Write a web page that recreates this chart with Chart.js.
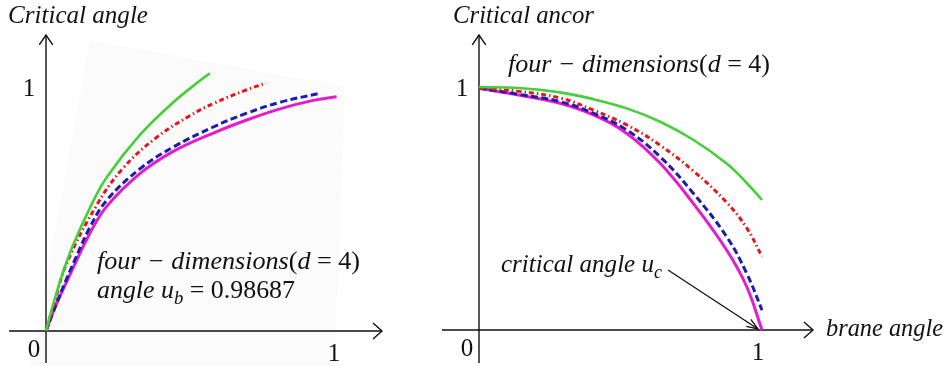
<!DOCTYPE html>
<html>
<head>
<meta charset="utf-8">
<script src="https://cdn.jsdelivr.net/npm/chart.js@4"></script>
<style>
  body { margin: 0; background: #fff; }
  #wrap { position: relative; width: 946px; height: 366px; overflow: hidden; }
  #leftBox { position: absolute; left: 0; top: 0; width: 440px; height: 366px; }
  #rightBox { position: absolute; left: 440px; top: 0; width: 506px; height: 366px; }
  .probe { position: absolute; left: -999px; font-family: "Liberation Serif"; }
</style>
</head>
<body>
<div id="wrap">
  <div id="leftBox"><canvas id="leftChart" width="440" height="366"></canvas></div>
  <div id="rightBox"><canvas id="rightChart" width="506" height="366"></canvas></div>
</div>
<span class="probe">a <i>a</i></span>
<script>
// left panel: Critical angle
const leftGreenX = [0, 0.02, 0.055, 0.094, 0.153, 0.211, 0.326, 0.442, 0.535, 0.569];
const leftGreenY = [0, 0.09, 0.228, 0.355, 0.51, 0.635, 0.81, 0.945, 1.035, 1.065];
const leftRedX = [0, 0.025, 0.072, 0.176, 0.267, 0.384, 0.5, 0.581, 0.697, 0.764];
const leftRedY = [0, 0.1, 0.28, 0.52, 0.672, 0.8, 0.89, 0.94, 0.997, 1.024];
const leftBlueX = [0, 0.035, 0.066, 0.095, 0.153, 0.211, 0.326, 0.442, 0.581, 0.697, 0.8125, 0.949];
const leftBlueY = [0, 0.11, 0.2, 0.28, 0.43, 0.54, 0.67, 0.76, 0.843, 0.9, 0.945, 0.982];
const leftMagentaX = [0, 0.031, 0.094, 0.153, 0.211, 0.326, 0.442, 0.581, 0.697, 0.8125, 0.928, 1.009];
const leftMagentaY = [0, 0.096, 0.26, 0.405, 0.515, 0.65, 0.742, 0.818, 0.872, 0.918, 0.953, 0.968];

// right panel: Critical ancor vs brane angle
const rightX = [0, 0.14, 0.286, 0.404, 0.522, 0.640, 0.757, 0.875, 0.946, 1.0];
const rightGreenY = [1.0, 0.996, 0.978, 0.95, 0.912, 0.857, 0.783, 0.685, 0.605, 0.535];
const rightRedY = [0.995, 0.982, 0.955, 0.905, 0.844, 0.76, 0.655, 0.525, 0.42, 0.302];
const rightBlueY = [0.995, 0.97, 0.940, 0.892, 0.823, 0.713, 0.563, 0.384, 0.233, 0.082];
const rightMagentaY = [0.995, 0.967, 0.933, 0.885, 0.809, 0.686, 0.521, 0.329, 0.178, 0.0];

const xTicks = [1];
const yTicks = [1];
const originLabel = '0';

const FAMILY = '"Liberation Serif", "Times New Roman", Times, serif';

function pts(xs, ys) {
    return xs.map((x, i) => ({ x: x, y: ys[i] }));
}

function series(xs, ys, color, dash, width) {
    return {
        data: pts(xs, ys),
        borderColor: color,
        borderWidth: width,
        borderDash: dash,
        showLine: true,
        fill: false,
        pointRadius: 0,
        tension: 0.4,
        clip: false
    };
}

function fontFor(style, size) {
    if (style === 'r') return size + 'px ' + FAMILY;
    if (style === 's') return 'italic ' + Math.round(size * 0.7) + 'px ' + FAMILY;
    return 'italic ' + size + 'px ' + FAMILY;
}

// draws mixed italic / upright runs squeezed to the given width
function drawRuns(ctx, runs, x, y, width, size) {
    ctx.save();
    let total = 0;
    runs.forEach(r => { ctx.font = fontFor(r[1], size); total += ctx.measureText(r[0]).width; });
    const sx = width ? width / total : 1;
    ctx.translate(x, y);
    ctx.scale(sx, 1);
    ctx.fillStyle = '#111';
    ctx.textBaseline = 'alphabetic';
    ctx.textAlign = 'left';
    let cx = 0;
    runs.forEach(r => {
        ctx.font = fontFor(r[1], size);
        ctx.fillText(r[0], cx, r[1] === 's' ? size * 0.22 : 0);
        cx += ctx.measureText(r[0]).width;
    });
    ctx.restore();
}

function arrowHead(ctx, fx, fy, tx, ty, len, spread) {
    const a = Math.atan2(ty - fy, tx - fx);
    ctx.beginPath();
    ctx.moveTo(tx - len * Math.cos(a - spread), ty - len * Math.sin(a - spread));
    ctx.lineTo(tx, ty);
    ctx.lineTo(tx - len * Math.cos(a + spread), ty - len * Math.sin(a + spread));
    ctx.stroke();
}

function decor(cfg) {
    return {
        id: 'decor',
        beforeDatasetsDraw(chart) {
            const ctx = chart.ctx;
            const xs = chart.scales.x, ys = chart.scales.y;
            const ox = xs.getPixelForValue(0), oy = ys.getPixelForValue(0);
            ctx.save();
            if (cfg.shade) {
                ctx.fillStyle = '#fbfbfb';
                ctx.beginPath();
                cfg.shade.forEach((p, i) => i ? ctx.lineTo(p[0], p[1]) : ctx.moveTo(p[0], p[1]));
                ctx.closePath();
                ctx.fill();
            }
            ctx.strokeStyle = '#111';
            ctx.lineWidth = 1.4;
            ctx.beginPath();
            ctx.moveTo(cfg.xFrom, oy); ctx.lineTo(cfg.xTip, oy);
            ctx.moveTo(ox, cfg.yFrom); ctx.lineTo(ox, cfg.yTip);
            ctx.stroke();
            arrowHead(ctx, cfg.xFrom, oy, cfg.xTip, oy, 12, 0.72);
            arrowHead(ctx, ox, cfg.yFrom, ox, cfg.yTip, 12, 0.6);
            ctx.restore();
        },
        afterDraw(chart) {
            const ctx = chart.ctx;
            const xs = chart.scales.x, ys = chart.scales.y;
            const ox = xs.getPixelForValue(0), oy = ys.getPixelForValue(0);
            ctx.save();
            ctx.fillStyle = '#111';
            ctx.textAlign = 'center';
            ctx.textBaseline = 'middle';
            ctx.font = '25px ' + FAMILY;
            xTicks.forEach(v => ctx.fillText(String(v), xs.getPixelForValue(v) + cfg.xTickDx, oy + 23));
            yTicks.forEach(v => ctx.fillText(String(v), ox - 17, ys.getPixelForValue(v) + cfg.yTickDy));
            ctx.fillText(originLabel, ox - 12, oy + 19);
            ctx.restore();
            cfg.texts.forEach(t => drawRuns(ctx, t.runs, t.x, t.y, t.w, t.size));
            if (cfg.pointer) {
                const p = cfg.pointer;
                ctx.save();
                ctx.strokeStyle = '#111';
                ctx.lineWidth = 1.3;
                ctx.beginPath();
                ctx.moveTo(p[0], p[1]);
                ctx.lineTo(p[2], p[3]);
                ctx.stroke();
                arrowHead(ctx, p[0], p[1], p[2], p[3], 12, 0.35);
                ctx.restore();
            }
        }
    };
}

function makeChart(id, datasets, xr, yr, cfg) {
    return new Chart(document.getElementById(id), {
        type: 'scatter',
        data: { datasets: datasets },
        options: {
            responsive: false,
            animation: false,
            devicePixelRatio: 1,
            layout: { padding: 0 },
            plugins: { legend: { display: false }, tooltip: { enabled: false } },
            scales: {
                x: { type: 'linear', display: false, min: xr[0], max: xr[1] },
                y: { type: 'linear', display: false, min: yr[0], max: yr[1] }
            }
        },
        plugins: [decor(cfg)]
    });
}

const GREEN = '#45cf38', RED = '#e4161c', BLUE = '#1c1cb0', MAGENTA = '#e41ccc';
const DASHDOT = [5, 3, 1.5, 3], DASH = [7, 3.5];

const fourDim = [['four \u2212 dimensions', 'i'], ['(', 'r'], ['d', 'i'], [' = 4)', 'r']];

function build() {
    // left: x=0 at 46px, 288px per unit; y=0 at 331px, 242px per unit
    makeChart('leftChart', [
        series(leftGreenX, leftGreenY, GREEN, [], 2.6),
        series(leftRedX, leftRedY, RED, DASHDOT, 3),
        series(leftBlueX, leftBlueY, BLUE, DASH, 3),
        series(leftMagentaX, leftMagentaY, MAGENTA, [], 3)
    ], [-46 / 288, 394 / 288], [-35 / 242, 331 / 242], {
        shade: [[90, 40], [345, 87], [335, 366], [30, 366]],
        xFrom: 9, xTip: 382, yFrom: 363, yTip: 35,
        xTickDx: 0, yTickDy: 0,
        texts: [
            { runs: [['Critical angle', 'i']], x: 8, y: 23, w: 140, size: 26 },
            { runs: fourDim, x: 97, y: 269, w: 263, size: 25 },
            { runs: [['angle u', 'i'], ['b', 's'], [' = 0.98687', 'r']], x: 97, y: 298, w: 198, size: 25 }
        ]
    });

    // right: x=0 at 39px (local), 283px per unit; y=0 at 330px, 243px per unit
    makeChart('rightChart', [
        series(rightX, rightGreenY, GREEN, [], 2.6),
        series(rightX, rightRedY, RED, DASHDOT, 3),
        series(rightX, rightBlueY, BLUE, DASH, 3),
        series(rightX, rightMagentaY, MAGENTA, [], 3)
    ], [-39 / 283, 467 / 283], [-36 / 243, 330 / 243], {
        xFrom: 2, xTip: 373, yFrom: 363, yTip: 35,
        xTickDx: -4, yTickDy: 2,
        texts: [
            { runs: [['Critical ancor', 'i']], x: 13, y: 23, w: 141, size: 26 },
            { runs: [['brane angle', 'i']], x: 386, y: 336, w: 117, size: 26 },
            { runs: fourDim, x: 68, y: 72, w: 262, size: 25 },
            { runs: [['critical angle u', 'i'], ['c', 's']], x: 61, y: 272, w: 161, size: 25 }
        ],
        pointer: [228, 270, 318, 329]
    });
}

Promise.all([
    document.fonts.load('25px "Liberation Serif"'),
    document.fonts.load('italic 25px "Liberation Serif"')
]).then(build, build);
</script>
</body>
</html>
